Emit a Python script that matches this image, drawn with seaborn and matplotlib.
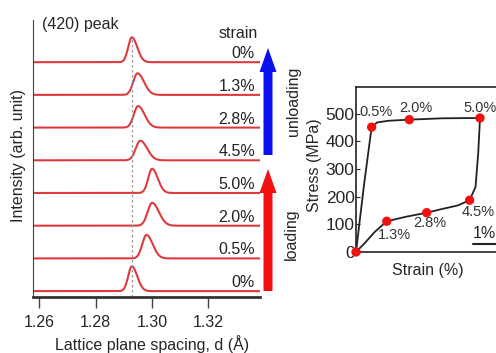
import numpy as np
import pandas as pd
import matplotlib
matplotlib.use("Agg")
import matplotlib.pyplot as plt
import seaborn as sns
from matplotlib.patches import FancyArrow
from matplotlib.transforms import IdentityTransform

# peak data, listed bottom trace to top trace
strain_labels = ["0%", "0.5%", "2.0%", "5.0%", "4.5%", "2.8%", "1.3%", "0%"]
peak_center = [1.2928, 1.2980, 1.3000, 1.3000, 1.2958, 1.2950, 1.2948, 1.2928]
peak_height = [0.76, 0.72, 0.70, 0.74, 0.60, 0.66, 0.66, 0.76]
sigma_left = [0.0013, 0.0015, 0.0016, 0.0014, 0.0016, 0.0015, 0.0015, 0.0013]
sigma_right = [0.0019, 0.0022, 0.0024, 0.0020, 0.0024, 0.0023, 0.0023, 0.0019]
ref_d = 1.2928

# stress-strain loop (strain %, stress MPa)
loop_strain = [0, 0.32, 0.63, 0.85, 1.3, 2.15, 3.5, 5.0,
               4.93, 4.82, 4.58, 4.1, 3.5, 2.85, 2.0, 1.24, 0.75, 0.35, 0]
loop_stress = [0, 240, 451, 468, 474, 478, 483, 484,
               360, 235, 187, 168, 156, 142, 127, 111, 72, 32, 0]
point_strain = [0, 0.63, 2.15, 5.0, 4.58, 2.85, 1.24]
point_stress = [0, 451, 478, 484, 187, 142, 111]

sns.set_style("ticks")
plt.rcParams['font.family'] = ['Liberation Sans', 'DejaVu Sans']
FS = 11.5

fig = plt.figure(figsize=(4.96, 3.53), dpi=100)
W, H = 496, 353

# ---- left panel: diffraction peaks
ax = fig.add_axes([33 / W, 1 - 297 / H, 227 / W, 277 / H])
d = np.linspace(1.255, 1.34, 700)
for i, lab in enumerate(strain_labels):
    s = np.where(d < peak_center[i], sigma_left[i], sigma_right[i])
    y = i + peak_height[i] * np.exp(-0.5 * ((d - peak_center[i]) / s) ** 2)
    df = pd.DataFrame({"d": d, "I": y})
    sns.lineplot(data=df, x="d", y="I", ax=ax, color="#ec3a3e", lw=1.5,
                 estimator=None)
    sns.lineplot(data=df, x="d", y="I", ax=ax, color="#b04040", lw=0.3,
                 estimator=None)
    ax.text(1.3365, i + 0.03, lab, ha="right", va="bottom", fontsize=FS,
            color="#222222")
ax.axvline(ref_d, ymax=(291 - 32) / 277, color="#999999", ls=(0, (2, 2)),
           lw=0.9)
ax.set_xlim(1.2577, 1.3383)
ax.set_ylim(-0.18, 8.29)
ax.set_xticks([1.26, 1.28, 1.30, 1.32])
ax.set_xticklabels(["1.26", "1.28", "1.30", "1.32"], fontsize=FS)
ax.set_yticks([])
ax.tick_params(axis="x", length=8, width=1, color="#444444", pad=5)
ax.set_xlabel("")
ax.set_ylabel("")
sns.despine(ax=ax)
ax.spines["left"].set_color("#444444")
ax.spines["bottom"].set_linewidth(2)
ax.spines["bottom"].set_color("#333333")
ax.text(0.04, 1.01, "(420) peak", transform=ax.transAxes, fontsize=FS,
        va="top", ha="left")
fig.text(258 / W, 1 - 33 / H, "strain", ha="right", va="center", fontsize=FS)
fig.text(19 / W, 1 - 155 / H, "Intensity (arb. unit)", rotation=90,
         ha="center", va="center", fontsize=FS)
fig.text(152 / W, 1 - 344 / H, "Lattice plane spacing, d (Å)", ha="center",
         va="center", fontsize=FS)

# arrows in pixel coordinates
blue = FancyArrow(268, H - 155, 0, 107, width=9, head_width=17,
                  head_length=24, length_includes_head=True,
                  transform=IdentityTransform(), color="#0a10f0", lw=0)
red = FancyArrow(268, H - 291, 0, 122, width=9, head_width=17,
                 head_length=24, length_includes_head=True,
                 transform=IdentityTransform(), color="#f21010", lw=0)
fig.add_artist(blue)
fig.add_artist(red)
fig.text(293 / W, 1 - 101 / H, "unloading", rotation=90, ha="center",
         va="center", fontsize=FS)
fig.text(291 / W, 1 - 234 / H, "loading", rotation=90, ha="center",
         va="center", fontsize=FS)

# ---- right panel: stress-strain loop
px = 24.8
bx = fig.add_axes([356 / W, 1 - 252 / H, 6 * px / W, 165 / H])
loop = pd.DataFrame({"strain": loop_strain, "stress": loop_stress})
sns.lineplot(data=loop, x="strain", y="stress", sort=False, estimator=None,
             ax=bx, color="#222222", lw=1.3)
pts = pd.DataFrame({"strain": point_strain, "stress": point_stress})
sns.scatterplot(data=pts, x="strain", y="stress", ax=bx, color="#f01010",
                s=45, edgecolor="none", zorder=5, clip_on=False)
bx.set_xlim(0, 6)
bx.set_ylim(0, 596)
bx.set_xticks([])
bx.set_yticks([0, 100, 200, 300, 400, 500])
bx.tick_params(axis="y", direction="in", length=3, labelsize=12.5, pad=1)
bx.set_xlabel("")
bx.set_ylabel("")
for sp in bx.spines.values():
    sp.set_linewidth(1.2)
    sp.set_color("#222222")
labels = [("0.5%", 0.79, 506, "center"), ("2.0%", 2.43, 520, "center"),
          ("5.0%", 4.34, 520, "left"), ("4.5%", 4.93, 145, "center"),
          ("2.8%", 2.98, 103, "center"), ("1.3%", 1.57, 60, "center")]
for t, x, y, ha in labels:
    bx.text(x, y, t, ha=ha, va="center", fontsize=10.5, color="#333333")
bx.text(4.72, 66, "1%", ha="left", va="center", fontsize=11.5)
bx.plot([4.7, 5.7], [30, 30], color="#222222", lw=1.5)
fig.text(315 / W, 1 - 165 / H, "Stress (MPa)", rotation=90, ha="center",
         va="center", fontsize=FS)
fig.text(428 / W, 1 - 271 / H, "Strain (%)", ha="center", va="center",
         fontsize=FS)

fig.savefig("out.png", dpi=100)
